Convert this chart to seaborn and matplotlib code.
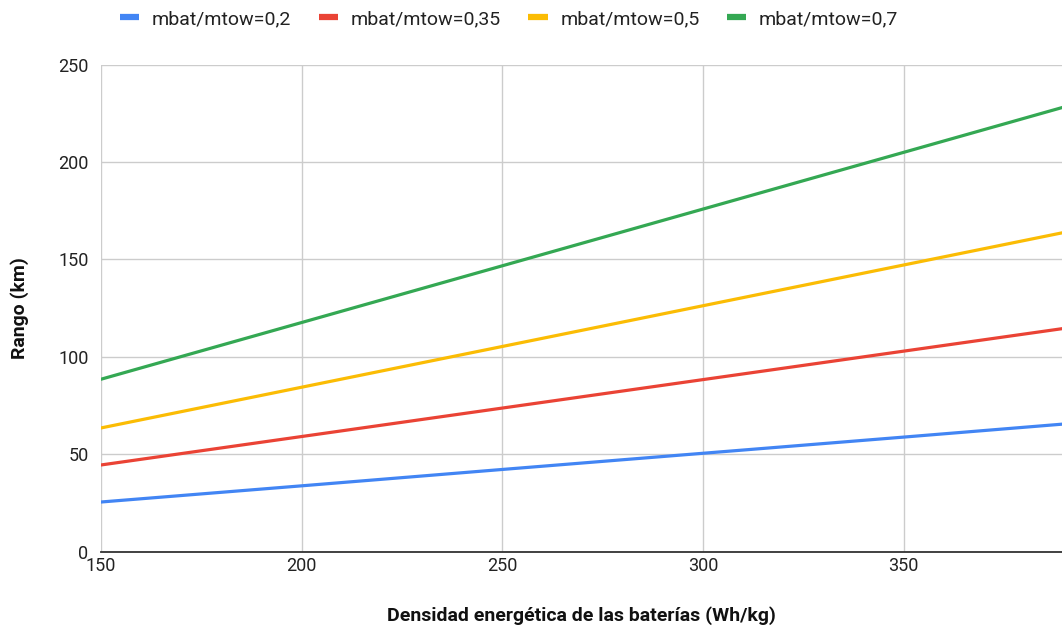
import matplotlib
matplotlib.use("Agg")
import matplotlib.pyplot as plt
import seaborn as sns
import pandas as pd

# Battery energy density (Wh/kg)
densidad = [150, 200, 250, 300, 350, 400]

# Range (km) for each battery-mass fraction
rango_02 = [25.5, 33.8, 42.2, 50.5, 58.8, 67.2]
rango_035 = [44.5, 59.1, 73.7, 88.3, 102.9, 117.5]
rango_05 = [63.5, 84.4, 105.3, 126.2, 147.1, 168.0]
rango_07 = [88.5, 117.6, 146.7, 175.8, 204.9, 234.0]

series_names = ["mbat/mtow=0,2", "mbat/mtow=0,35", "mbat/mtow=0,5", "mbat/mtow=0,7"]
series_values = [rango_02, rango_035, rango_05, rango_07]
colores = ["#4285F4", "#EA4335", "#FBBC04", "#34A853"]

x_ticks = [150, 200, 250, 300, 350]
y_ticks = [0, 50, 100, 150, 200, 250]

rows = []
for name, vals in zip(series_names, series_values):
    for d, v in zip(densidad, vals):
        rows.append({"densidad": d, "rango": v, "serie": name})
df = pd.DataFrame(rows)

sns.set_style("white")
plt.rcParams["font.family"] = ["Roboto", "DejaVu Sans"]

fig = plt.figure(figsize=(10.62, 6.33), dpi=100)
ax = fig.add_axes([101 / 1062, (633 - 551.7) / 633, 961 / 1062, 487.2 / 633])

sns.lineplot(data=df, x="densidad", y="rango", hue="serie",
             palette=colores, hue_order=series_names,
             linewidth=2.3, ax=ax, legend=False)

ax.set_xlim(150, 389.5)
ax.set_ylim(0, 250)
ax.set_xticks(x_ticks)
ax.set_yticks(y_ticks)
ax.grid(True, color="#cccccc", linewidth=1.0)
ax.set_axisbelow(True)
for s in ["top", "right", "left"]:
    ax.spines[s].set_visible(False)
ax.spines["bottom"].set_color("#333333")
ax.spines["bottom"].set_linewidth(1.3)
ax.spines["bottom"].set_zorder(5)

ax.tick_params(axis="both", length=0, labelsize=13, labelcolor="#222222")
ax.tick_params(axis="x", pad=4)
ax.tick_params(axis="y", pad=9)

ax.set_xlabel("Densidad energética de las baterías (Wh/kg)", fontsize=14,
              fontweight="bold", color="#111111", labelpad=22)
ax.set_ylabel("Rango (km)", fontsize=14, fontweight="bold",
              color="#111111", labelpad=21)

handles = [plt.Line2D([0], [0], color=c, linewidth=4.5, solid_capstyle="butt")
           for c in colores]
fig.legend(handles, series_names, loc="center left",
           bbox_to_anchor=(120 / 1062, 1 - 19 / 633), ncol=4, frameon=False,
           fontsize=14, handlelength=1.0, handletextpad=0.65,
           columnspacing=1.4, labelcolor="#222222",
           borderpad=0.0, borderaxespad=0.0)

fig.savefig("out.png", dpi=100)
